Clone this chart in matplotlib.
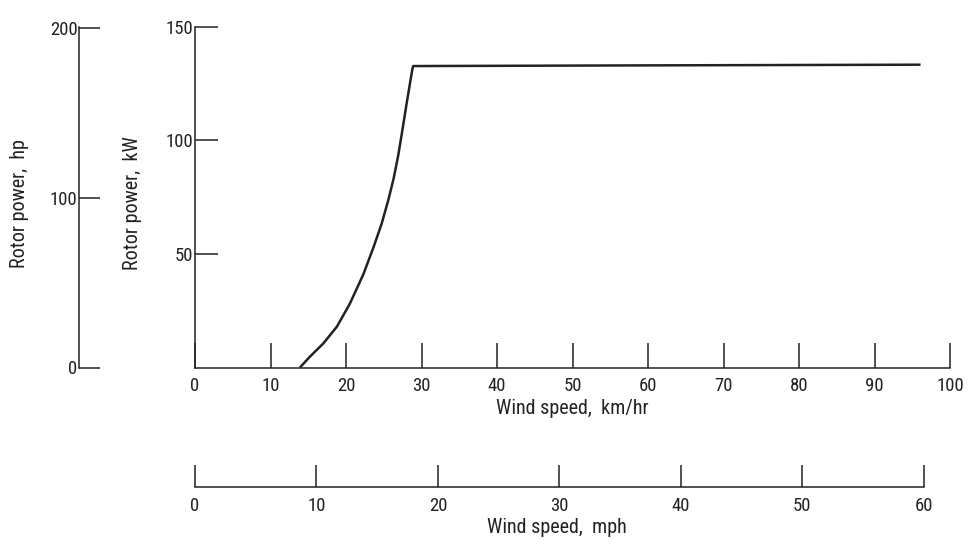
import matplotlib
matplotlib.use("Agg")
import matplotlib.pyplot as plt

plt.rcParams['font.family'] = ['Roboto Condensed', 'DejaVu Sans']

# rotor power curve (km/hr, kW)
wind_kmh = [13.9, 15.2, 17.0, 18.8, 20.5, 22.3, 23.6, 24.7, 25.6, 26.3,
            26.9, 27.4, 28.0, 28.5, 28.8, 28.9, 60.0, 96.1]
power_kw = [0.0, 4.7, 10.6, 18.0, 28.0, 41.0, 52.5, 63.0, 73.6, 83.0,
            93.0, 103.0, 115.5, 125.5, 131.4, 132.6, 132.9, 133.2]

kmh_ticks = [0, 10, 20, 30, 40, 50, 60, 70, 80, 90, 100]
kw_ticks = [50, 100, 150]
hp_ticks = [0, 100, 200]
mph_ticks = [0, 10, 20, 30, 40, 50, 60]

KW_PER_HP = 0.7457
KMH_PER_MPH = 1.609

W, H = 969, 547
fig = plt.figure(figsize=(W / 100, H / 100), dpi=100)
ink = '#222222'
fs_tick = 13.5
fs_lab = 14.5


def frac(x0, y0, x1, y1):
    # pixel box -> figure fraction [left, bottom, width, height]
    return [x0 / W, 1 - y1 / H, (x1 - x0) / W, (y1 - y0) / H]


# main axes (km/hr vs kW)
ax = fig.add_axes(frac(195, 26.5, 950, 367.5))
ax.plot(wind_kmh, power_kw, color=ink, lw=1.8, solid_capstyle='butt',
        solid_joinstyle='round')
ax.set_xlim(0, 100)
ax.set_ylim(0, 150)
ax.set_xticks(kmh_ticks)
ax.set_yticks(kw_ticks)
for s in ['top', 'right']:
    ax.spines[s].set_visible(False)
for s in ['left', 'bottom']:
    ax.spines[s].set_linewidth(1.1)
    ax.spines[s].set_color(ink)
ax.tick_params(axis='x', direction='in', length=18, width=1.1, pad=7,
               labelsize=fs_tick, colors=ink)
ax.tick_params(axis='y', direction='in', length=16.5, width=1.1, pad=1,
               labelsize=fs_tick, colors=ink)
ax.set_xlabel('Wind speed,  km/hr', fontsize=fs_lab, color=ink, labelpad=3)
ax.set_ylabel('Rotor power,  kW', fontsize=fs_lab, color=ink)
ax.yaxis.set_label_coords((142 - 195) / (950 - 195), 0.482)

# hp axis on the far left
axh = fig.add_axes(frac(79, 26.5, 120, 367.5))
axh.set_ylim(0, 150 / KW_PER_HP)
axh.set_yticks(hp_ticks)
axh.set_xticks([])
for s in ['top', 'right', 'bottom']:
    axh.spines[s].set_visible(False)
axh.spines['left'].set_linewidth(1.1)
axh.spines['left'].set_color(ink)
axh.patch.set_visible(False)
axh.tick_params(axis='y', direction='in', length=15, width=1.1, pad=1,
                labelsize=fs_tick, colors=ink)
axh.set_ylabel('Rotor power,  hp', fontsize=fs_lab, color=ink)
axh.yaxis.set_label_coords((29 - 79) / 41, 0.482)

# mph axis underneath
axm = fig.add_axes(frac(195, 450, 950, 487))
axm.set_xlim(0, 100 / KMH_PER_MPH)
axm.set_xticks(mph_ticks)
axm.set_yticks([])
for s in ['top', 'right', 'left']:
    axm.spines[s].set_visible(False)
axm.spines['bottom'].set_linewidth(1.1)
axm.spines['bottom'].set_color(ink)
axm.spines['bottom'].set_bounds(0, 60)
axm.patch.set_visible(False)
axm.tick_params(axis='x', direction='in', length=16, width=1.1, pad=7,
                labelsize=fs_tick, colors=ink)
axm.set_xlabel('Wind speed,  mph', fontsize=fs_lab, color=ink)
axm.xaxis.set_label_coords((557 - 195) / (950 - 195), -0.85)

fig.savefig('out.png', dpi=100)
